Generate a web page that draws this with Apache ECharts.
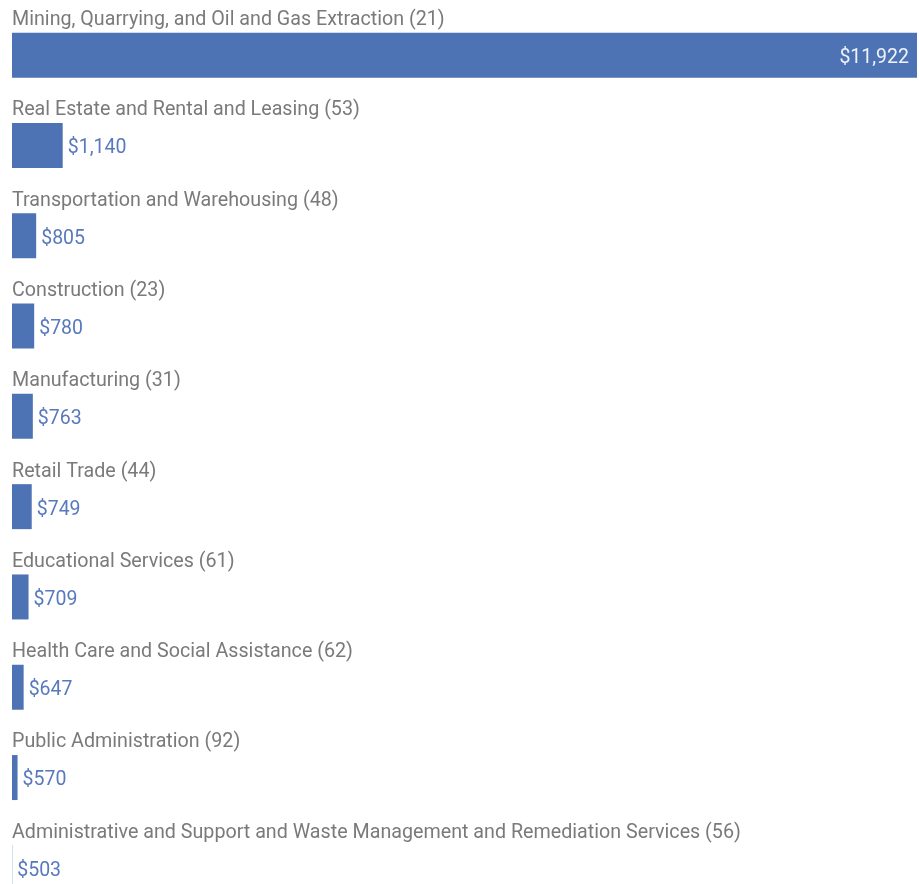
<!DOCTYPE html>
<html>
<head>
<meta charset="utf-8">
<script src="https://cdn.jsdelivr.net/npm/echarts@6/dist/echarts.min.js"></script>
<style>
  html, body { margin: 0; padding: 0; background: #ffffff; }
  #chart { width: 919px; height: 884px; }
</style>
</head>
<body>
<div id="chart"></div>
<script>
// Industries, ranked by average value, with their sector codes
const industries = [
  'Mining, Quarrying, and Oil and Gas Extraction',
  'Real Estate and Rental and Leasing',
  'Transportation and Warehousing',
  'Construction',
  'Manufacturing',
  'Retail Trade',
  'Educational Services',
  'Health Care and Social Assistance',
  'Public Administration',
  'Administrative and Support and Waste Management and Remediation Services'
];
const sectorCodes = [21, 53, 48, 23, 31, 44, 61, 62, 92, 56];
const amounts = [11922, 1140, 805, 780, 763, 749, 709, 647, 570, 503];

const categories = industries.map((name, i) => name + ' (' + sectorCodes[i] + ')');
const fmt = v => '$' + v.toLocaleString('en-US');

const barColor = '#4e73b4';

const chart = echarts.init(document.getElementById('chart'));
chart.setOption({
  animation: false,
  // the last row runs past the bottom edge, so the grid extends below it
  grid: {
    left: 12, right: 2, top: 10, bottom: -29,
    containLabel: false,
    outerBoundsMode: 'none'
  },
  xAxis: {
    type: 'value',
    min: 500,
    max: 11922,
    show: false
  },
  yAxis: {
    type: 'category',
    data: categories,
    inverse: true,
    axisLine: { show: false },
    axisTick: { show: false },
    axisLabel: {
      inside: true,
      margin: 0,
      interval: 0,
      align: 'left',
      verticalAlign: 'bottom',
      lineHeight: 20,
      padding: [0, 0, 25, 0],
      fontFamily: 'Roboto',
      fontSize: 19.7,
      color: '#7a7a7a'
    }
  },
  series: [{
    type: 'bar',
    data: amounts.map((v, i) => ({
      value: v,
      label: i === 0
        ? { position: 'insideRight', color: '#eef2f9', distance: 8 }
        : {}
    })),
    barWidth: 45,
    barMinHeight: 1.5,
    itemStyle: { color: barColor },
    label: {
      show: true,
      position: 'right',
      distance: 5,
      offset: [0, 3],
      fontFamily: 'Roboto',
      fontSize: 19.5,
      color: '#5879bd',
      formatter: p => fmt(p.value)
    }
  }]
});
</script>
</body>
</html>
